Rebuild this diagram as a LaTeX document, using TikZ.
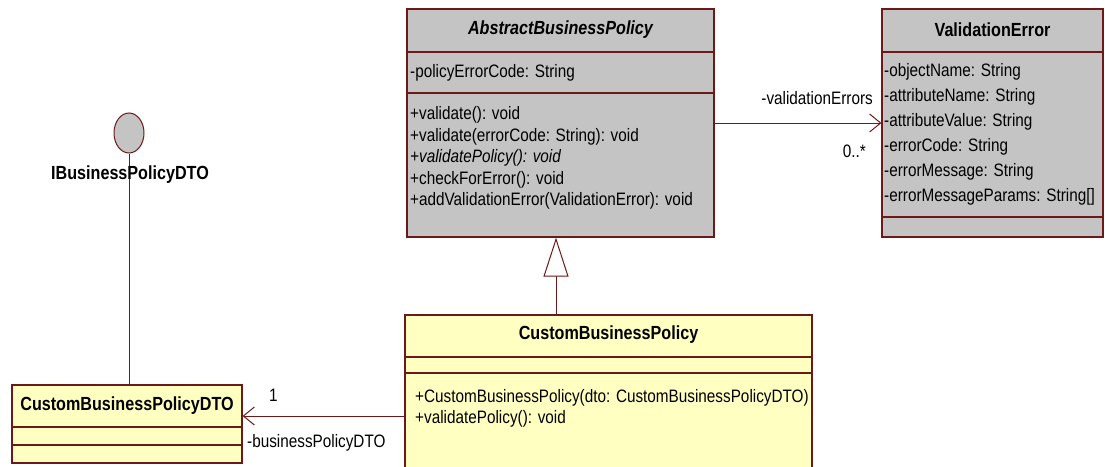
\documentclass[tikz,border=0pt]{standalone}
\usepackage{fontspec}
\setmainfont{Liberation Sans}[FakeStretch=0.85]
\usetikzlibrary{arrows.meta,shapes.geometric}
\definecolor{umlline}{RGB}{110,25,25}
\definecolor{umlgray}{RGB}{196,196,196}
\definecolor{umlyellow}{RGB}{255,255,194}
\newcommand{\umlfont}{\fontsize{18}{21}\selectfont}
\newcommand{\umlbold}{\fontsize{19}{22}\selectfont\bfseries}
\tikzset{
  classbox/.style={draw=umlline, line width=1.2pt, inner sep=0pt},
  member/.style={anchor=west, inner sep=0pt, font=\umlfont},
  classname/.style={inner sep=0pt, font=\umlbold},
  sep/.style={draw=umlline, line width=1.1pt},
  assoc/.style={draw=umlline, line width=1pt, -{Straight Barb[length=11pt,width=18pt]}},
  inherit/.style={draw=umlline, line width=1pt, -{Triangle[open,length=39pt,width=25pt,fill=white]}},
}
\begin{document}
\begin{tikzpicture}[x=1pt, y=-1pt]
  \clip (0,0) rectangle (1105,466);
  \fill[white] (0,0) rectangle (1105,466);

  % abstract base class
  \node[classbox, fill=umlgray, minimum width=307pt, minimum height=228pt] (abp) at (560.5,123) {};
  \draw[sep] (abp.west |- 0,52) -- (abp.east |- 0,52);
  \draw[sep] (abp.west |- 0,93) -- (abp.east |- 0,93);
  \node[classname, font=\umlbold\itshape] (abpname) at (560.5,30) {AbstractBusinessPolicy};
  \node[member] (abpa1) at (410,73) {-policyErrorCode: String};
  \node[member] (abpm1) at (410,115) {+validate(): void};
  \node[member] (abpm2) at (410,137) {+validate(errorCode: String): void};
  \node[member] (abpm3) at (410,158) {\itshape +validatePolicy(): void};
  \node[member] (abpm4) at (410,180) {+checkForError(): void};
  \node[member] (abpm5) at (410,201) {+addValidationError(ValidationError): void};

  % error class
  \node[classbox, fill=umlgray, minimum width=221pt, minimum height=228pt] (verr) at (992.5,123) {};
  \draw[sep] (verr.west |- 0,52) -- (verr.east |- 0,52);
  \draw[sep] (verr.west |- 0,217) -- (verr.east |- 0,217);
  \node[classname] (verrname) at (992.5,30) {ValidationError};
  \node[member] (verra1) at (884,72) {-objectName: String};
  \node[member] (verra2) at (884,97) {-attributeName: String};
  \node[member] (verra3) at (884,122) {-attributeValue: String};
  \node[member] (verra4) at (884,147) {-errorCode: String};
  \node[member] (verra5) at (884,172) {-errorMessage: String};
  \node[member] (verra6) at (884,197) {-errorMessageParams: String[]};

  % concrete policy
  \node[classbox, fill=umlyellow, minimum width=407pt, minimum height=200pt] (cbp) at (608.5,415) {};
  \draw[sep] (cbp.west |- 0,357) -- (cbp.east |- 0,357);
  \draw[sep] (cbp.west |- 0,373) -- (cbp.east |- 0,373);
  \node[classname] (cbpname) at (608.5,335) {CustomBusinessPolicy};
  \node[member] (cbpm1) at (415,398) {+CustomBusinessPolicy(dto: CustomBusinessPolicyDTO)};
  \node[member] (cbpm2) at (415,419) {+validatePolicy(): void};

  % dto class
  \node[classbox, fill=umlyellow, minimum width=230pt, minimum height=78pt] (dto) at (127,424) {};
  \draw[sep] (dto.west |- 0,427) -- (dto.east |- 0,427);
  \draw[sep] (dto.west |- 0,445) -- (dto.east |- 0,445);
  \node[classname] (dtoname) at (127,406) {CustomBusinessPolicyDTO};

  % interface
  \node[ellipse, draw=umlline, line width=1pt, fill=umlgray, minimum width=30pt, minimum height=40pt, inner sep=0pt] (ibp) at (129,133) {};
  \draw[umlline, line width=1pt] (ibp.south) -- (dto.north -| ibp.south);
  \node[classname] (ibpname) at (130,175) {IBusinessPolicyDTO};

  % relations
  \draw[assoc] (abp.east) -- (verr.west);
  \node[anchor=east, inner sep=0pt, font=\umlfont] (verrrole) at (873,98) {-validationErrors};
  \node[anchor=east, inner sep=0pt, font=\umlfont] (verrmult) at (866,151) {0..*};
  \draw[inherit] (cbp.north -| 556,0) -- (abp.south -| 556,0);
  \draw[assoc] (cbp.west |- 0,416) -- (dto.east |- 0,416);
  \node[anchor=west, inner sep=0pt, font=\umlfont] (dtomult) at (269,395) {1};
  \node[anchor=west, inner sep=0pt, font=\umlfont] (dtorole) at (247,443) {-businessPolicyDTO};
\end{tikzpicture}
\end{document}
